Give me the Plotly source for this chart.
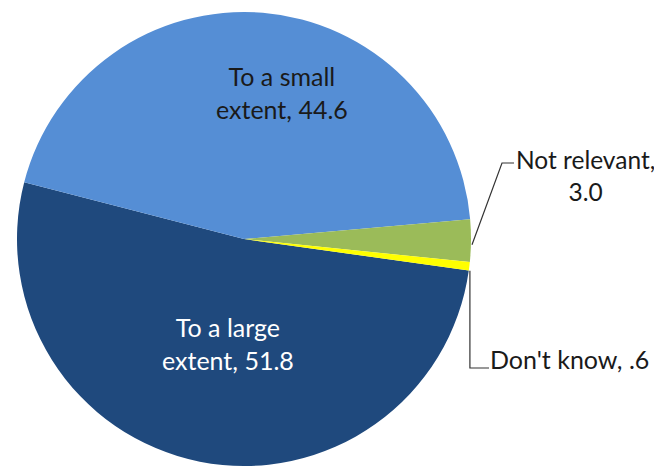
import math
import plotly.graph_objects as go

labels = ["To a large extent", "To a small extent", "Not relevant", "Don't know"]
values = [51.8, 44.6, 3.0, 0.6]
value_text = ["51.8", "44.6", "3.0", ".6"]
colors = ["#1F497D", "#558ED5", "#9BBB59", "#FFFF00"]

OFF = 8  # page body margin
W, H = 662 - OFF, 466 - OFF
cx, cy, R = 244, 239, 227  # in window pixels
ROT = 98
FONT = "Lato"
FS = 25

def px(x, y):
    return (x - OFF) / W, 1 - (y - OFF) / H

x0, y0 = px(cx - R, cy + R)
x1, y1 = px(cx + R, cy - R)

fig = go.Figure(go.Pie(
    labels=labels, values=values, sort=False, direction="clockwise",
    rotation=ROT, textinfo="none", hoverinfo="label+value",
    marker=dict(colors=colors, line=dict(width=0)),
    domain=dict(x=[x0, x1], y=[max(0, y0), min(1, y1)]),
    showlegend=False,
))

total = sum(values)
starts = []
acc = ROT
for v in values:
    starts.append((acc, acc + v / total * 360))
    acc += v / total * 360

def edge(i, frac=0.5):
    a0, a1 = starts[i]
    a = math.radians(a0 + (a1 - a0) * frac)
    return cx + R * math.sin(a), cy - R * math.cos(a)

ann = []
def add(text, x, y, color, xanchor="center", size=FS):
    ax, ay = px(x, y)
    ann.append(dict(text=text, x=ax, y=ay, xref="paper", yref="paper", showarrow=False,
                    xanchor=xanchor, yanchor="middle", align="center",
                    font=dict(family=FONT, size=size, color=color)))

add(f"To a small<br>extent, {value_text[1]}", 282, 93, "#1a1a1a")
add(f"To a large<br>extent, {value_text[0]}", 228, 343, "#ffffff")
add(f"Not relevant,<br>{value_text[2]}", 585, 175, "#1a1a1a", size=24.5)
add(f"Don't know, {value_text[3]}", 488, 359, "#1a1a1a", xanchor="left")

shapes = []
def path(pts):
    d = "M " + " L ".join(f"{px(x, y)[0]},{px(x, y)[1]}" for x, y in pts)
    shapes.append(dict(type="path", path=d, xref="paper", yref="paper",
                       line=dict(color="#333333", width=1.2)))

gx, gy = edge(2)
path([(gx + 1, gy + 4), (502, 163), (514, 163)])
yx, yy = edge(3, 0.9)
path([(yx + 1, yy + 1), (yx + 1, 368), (489, 368)])

fig.update_layout(width=W, height=H, margin=dict(l=0, r=0, t=0, b=0),
                  paper_bgcolor="white", plot_bgcolor="white",
                  annotations=ann, shapes=shapes)
fig.write_html("out.html")
